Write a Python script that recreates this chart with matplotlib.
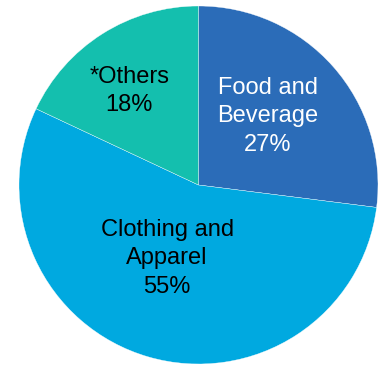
import matplotlib.pyplot as plt

segments = ['Food and\nBeverage', 'Clothing and\nApparel', '*Others']
shares = [27, 55, 18]
colors = ['#2b6cb8', '#00a9e0', '#14bfae']
text_colors = ['white', 'black', 'black']
# where each label sits, in pie units (radius = 1)
label_pos = [(0.385, 0.385), (-0.175, -0.41), (-0.385, 0.525)]

plt.rcParams['font.family'] = ['Liberation Sans', 'DejaVu Sans']

fig = plt.figure(figsize=(3.79, 3.65), dpi=100)
ax = fig.add_axes([19 / 379, 1 / 365, 359 / 379, 358 / 365])

wedges, _ = ax.pie(shares, colors=colors, startangle=90, counterclock=False,
                   radius=1, wedgeprops=dict(edgecolor='white', linewidth=0.25))

for name, val, (x, y), c in zip(segments, shares, label_pos, text_colors):
    ax.text(x, y, '%s\n%d%%' % (name, val), ha='center', va='center',
            fontsize=17, color=c, linespacing=1.38)

ax.set_xlim(-1, 1)
ax.set_ylim(-1, 1)
ax.set_aspect('auto')
ax.axis('off')

fig.savefig('out.png', dpi=100)
